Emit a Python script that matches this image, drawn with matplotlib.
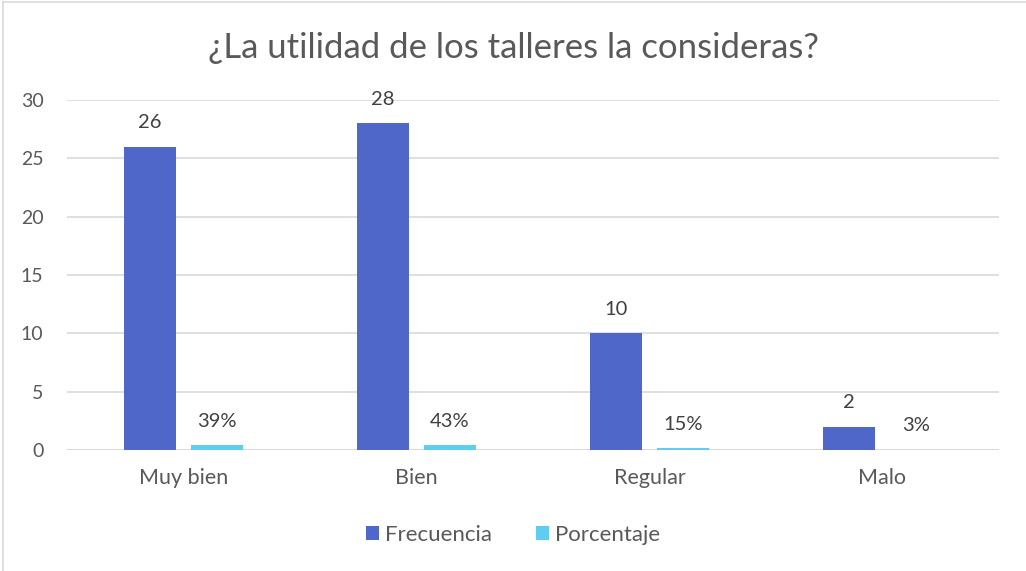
import matplotlib
matplotlib.use("Agg")
import matplotlib.pyplot as plt
import numpy as np
from matplotlib.lines import Line2D

categories = ["Muy bien", "Bien", "Regular", "Malo"]
frecuencia = [26, 28, 10, 2]
porcentaje = [0.39, 0.43, 0.15, 0.03]
yticks = [0, 5, 10, 15, 20, 25, 30]
title = "¿La utilidad de los talleres la consideras?"

plt.rcParams['font.family'] = ['Lato', 'DejaVu Sans']
TXT = "#595959"
LBL = "#404040"
C1 = "#4E67C8"
C2 = "#5ECCF3"

fig = plt.figure(figsize=(10.26, 5.71), dpi=100)
ax = fig.add_axes([67/1026, 1-450/571, 932/1026, 350/571])

x = np.arange(len(categories))
w = 0.223
off = 0.144
b1 = ax.bar(x - off, frecuencia, w, color=C1, label="Frecuencia", zorder=3)
b2 = ax.bar(x + off, porcentaje, w, color=C2, label="Porcentaje", zorder=3)

for r, v in zip(b1, frecuencia):
    ax.annotate(f"{v}", (r.get_x() + r.get_width()/2, r.get_height()),
                xytext=(0, 11), textcoords="offset points", ha="center", va="bottom",
                fontsize=14.5, color=LBL)
for r, v in zip(b2, porcentaje):
    ax.annotate(f"{v:.0%}", (r.get_x() + r.get_width()/2, r.get_height()),
                xytext=(0, 11), textcoords="offset points", ha="center", va="bottom",
                fontsize=14.5, color=LBL)

ax.set_xlim(-0.5, len(categories) - 0.5)
ax.set_ylim(0, 30)
ax.set_yticks(yticks)
ax.set_xticks(x)
ax.set_xticklabels(categories)
ax.tick_params(axis='y', length=0, pad=17, labelsize=14, labelcolor=TXT)
ax.tick_params(axis='x', length=0, pad=13, labelsize=15.5, labelcolor=TXT)
ax.grid(axis='y', color="#D9D9D9", linewidth=1.2, zorder=0)
for s in ax.spines.values():
    s.set_visible(False)
ax.axhline(0, color="#D9D9D9", linewidth=1.2, zorder=2)

fig.text(0.5, 1 - 48/571, title, ha="center", va="center", fontsize=25, color=TXT)

leg = fig.legend(handles=[b1, b2], loc="center", bbox_to_anchor=(0.5, 1 - 535/571),
                 ncol=2, frameon=False, fontsize=16, handlelength=0.6, handleheight=0.6,
                 handletextpad=0.25, columnspacing=2.0, labelcolor=TXT)

fig.add_artist(Line2D([3/1026, 3/1026], [0, 1 - 1.5/571], color="#D9D9D9", linewidth=1.2))
fig.add_artist(Line2D([3/1026, 1], [1 - 1.5/571, 1 - 1.5/571], color="#D9D9D9", linewidth=1.2))

fig.savefig("out.png", dpi=100)
